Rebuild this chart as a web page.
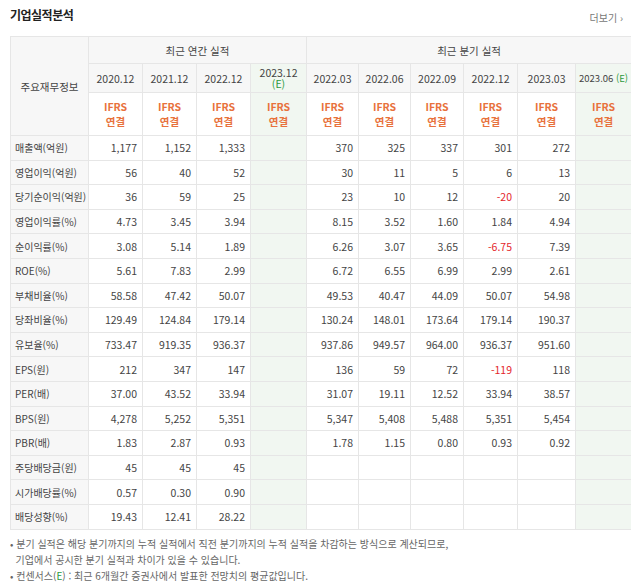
<!DOCTYPE html>
<html lang="ko">
<head>
<meta charset="UTF-8">
<title>기업실적분석</title>
<script src="https://cdn.jsdelivr.net/npm/chart.js"></script>
<style>
  body { margin: 0; width: 631px; height: 586px; background: #fff; font-family: 'Noto Sans CJK KR', sans-serif; color: #444; font-size: 10.5px; }
  .title { position: absolute; left: 10px; top: 6px; font-size: 12px; font-weight: bold; color: #222; letter-spacing: -0.5px; }
  .more { position: absolute; right: 8px; top: 10px; font-size: 10px; color: #777; }
  table { position: absolute; left: 10px; top: 36px; width: 621px; border-collapse: collapse; table-layout: fixed; border-top: 1px solid #bbb; border-bottom: 1px solid #bbb; }
  td, th { border: 1px solid #e6e6e6; padding: 0 5px; height: 24.6px; font-weight: normal; white-space: nowrap; box-sizing: border-box; }
  th { text-align: center; background: #f7f7f7; color: #444; padding: 0 2px; }
  td.lab { text-align: left; background: #f7f7f7; padding-left: 4px; font-size: 10px; }
  td.num { text-align: right; }
  .est { background: #f1f7f1 !important; }
  .ifrs { color: #e8713c; font-weight: bold; line-height: 15px; }
  .neg { color: #e4262b; }
  .g { color: #2a9a3c; }
  .div { border-left: 1px solid #ccc; }
  .foot { position: absolute; left: 10px; top: 536px; font-size: 10px; color: #666; line-height: 16px; }
</style>
</head>
<body>
<div class="title">기업실적분석</div>
<div class="more">더보기 ›</div>
<table id="t"></table>
<div class="foot">• 분기 실적은 해당 분기까지의 누적 실적에서 직전 분기까지의 누적 실적을 차감하는 방식으로 계산되므로,<br>&nbsp;&nbsp;기업에서 공시한 분기 실적과 차이가 있을 수 있습니다.<br>• 컨센서스(<span class="g">E</span>) : 최근 6개월간 증권사에서 발표한 전망치의 평균값입니다.</div>
<script>
const annualPeriods = ['2020.12', '2021.12', '2022.12', '2023.12'];
const quarterPeriods = ['2022.03', '2022.06', '2022.09', '2022.12', '2023.03', '2023.06'];
const rowLabels = ['매출액(억원)', '영업이익(억원)', '당기순이익(억원)', '영업이익률(%)', '순이익률(%)', 'ROE(%)',
  '부채비율(%)', '당좌비율(%)', '유보율(%)', 'EPS(원)', 'PER(배)', 'BPS(원)', 'PBR(배)',
  '주당배당금(원)', '시가배당률(%)', '배당성향(%)'];
const annualValues = [
  ['1,177', '1,152', '1,333', ''], ['56', '40', '52', ''], ['36', '59', '25', ''],
  ['4.73', '3.45', '3.94', ''], ['3.08', '5.14', '1.89', ''], ['5.61', '7.83', '2.99', ''],
  ['58.58', '47.42', '50.07', ''], ['129.49', '124.84', '179.14', ''], ['733.47', '919.35', '936.37', ''],
  ['212', '347', '147', ''], ['37.00', '43.52', '33.94', ''], ['4,278', '5,252', '5,351', ''], ['1.83', '2.87', '0.93', ''],
  ['45', '45', '45', ''], ['0.57', '0.30', '0.90', ''], ['19.43', '12.41', '28.22', '']
];
const quarterValues = [
  ['370', '325', '337', '301', '272', ''], ['30', '11', '5', '6', '13', ''], ['23', '10', '12', '-20', '20', ''],
  ['8.15', '3.52', '1.60', '1.84', '4.94', ''], ['6.26', '3.07', '3.65', '-6.75', '7.39', ''], ['6.72', '6.55', '6.99', '2.99', '2.61', ''],
  ['49.53', '40.47', '44.09', '50.07', '54.98', ''], ['130.24', '148.01', '173.64', '179.14', '190.37', ''], ['937.86', '949.57', '964.00', '936.37', '951.60', ''],
  ['136', '59', '72', '-119', '118', ''], ['31.07', '19.11', '12.52', '33.94', '38.57', ''], ['5,347', '5,408', '5,488', '5,351', '5,454', ''], ['1.78', '1.15', '0.80', '0.93', '0.92', ''],
  ['', '', '', '', '', ''], ['', '', '', '', '', ''], ['', '', '', '', '', '']
];

let h = '<colgroup><col style="width:78px">';
[54,54,54,56,52,52,53,54,58,56].forEach(w => h += '<col style="width:' + w + 'px">');
h += '</colgroup>';
h += '<tr><th rowspan="3" style="background:#f7f7f7">주요재무정보</th><th colspan="4" style="height:27px">최근 연간 실적</th><th colspan="6" class="div">최근 분기 실적</th></tr><tr>';
annualPeriods.forEach((p, i) => h += i === 3 ? '<th class="est" style="line-height:11px;height:29px">' + p + '<br><span class="g">(E)</span></th>' : '<th>' + p + '</th>');
quarterPeriods.forEach((p, i) => h += '<th' + (i === 0 ? ' class="div"' : i === 5 ? ' class="est" style="padding:0;font-size:9.5px"' : '') + '>' + p + (i === 5 ? ' <span class="g">(E)</span>' : '') + '</th>');
h += '</tr><tr>';
for (let i = 0; i < 10; i++) h += '<th class="ifrs' + (i === 3 || i === 9 ? ' est' : '') + (i === 4 ? ' div' : '') + '" style="height:43px;background:' + (i === 3 || i === 9 ? '#f1f7f1' : '#fff') + '">IFRS<br>연결</th>';
h += '</tr>';
rowLabels.forEach((lab, r) => {
  h += '<tr><td class="lab">' + lab + '</td>';
  annualValues[r].forEach((v, i) => h += '<td class="num' + (i === 3 ? ' est' : '') + (v.startsWith('-') ? ' neg' : '') + '">' + v + '</td>');
  quarterValues[r].forEach((v, i) => h += '<td class="num' + (i === 0 ? ' div' : '') + (i === 5 ? ' est' : '') + (v.startsWith('-') ? ' neg' : '') + '">' + v + '</td>');
  h += '</tr>';
});
document.getElementById('t').innerHTML = h;
</script>
</body>
</html>
